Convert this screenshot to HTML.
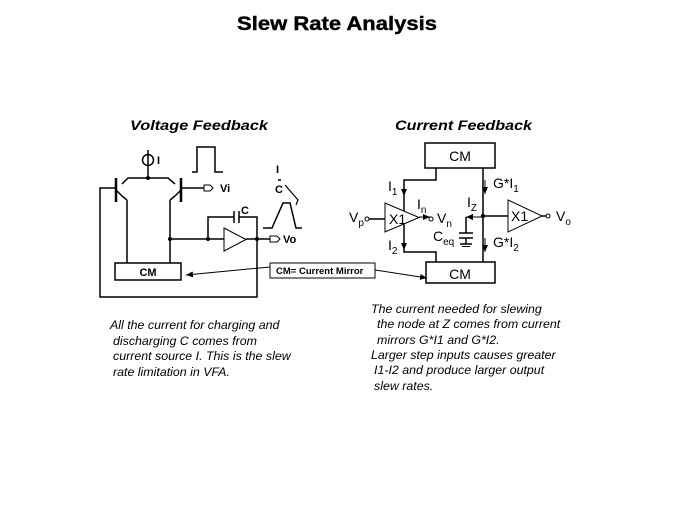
<!DOCTYPE html>
<html><head><meta charset="utf-8"><style>
html,body{margin:0;padding:0;background:#fff;}
svg{display:block;}
text{font-family:"Liberation Sans",Arial,sans-serif;fill:#000;}
</style></head><body>
<svg width="674" height="506" viewBox="0 0 674 506" xmlns="http://www.w3.org/2000/svg">
<defs>
<marker id="ar" markerWidth="8" markerHeight="8" refX="7" refY="4" orient="auto" markerUnits="userSpaceOnUse">
<path d="M0,1 L7,4 L0,7 z" fill="#000"/></marker>
</defs>
<text x="337" y="30" font-size="19" font-weight="bold" text-anchor="middle" textLength="200" lengthAdjust="spacingAndGlyphs" stroke="#000" stroke-width="0.4">Slew Rate Analysis</text>
<text x="130" y="130" font-size="14" font-weight="bold" font-style="italic" textLength="138" lengthAdjust="spacingAndGlyphs">Voltage Feedback</text>
<text x="395" y="130" font-size="14" font-weight="bold" font-style="italic" textLength="137" lengthAdjust="spacingAndGlyphs">Current Feedback</text>

<g stroke="#000" stroke-width="1.5" fill="none">
<circle cx="148" cy="160" r="5.5"/>
<line x1="148" y1="150" x2="148" y2="178"/>
<polyline points="122,184 128,178 168,178 175,184"/>
<line x1="116" y1="178" x2="116" y2="202" stroke-width="2.5"/>
<line x1="181" y1="178" x2="181" y2="202" stroke-width="2.5"/>
<polyline points="116,190 122,196 127,200"/>
<polyline points="181,190 175,196 170,200"/>
<line x1="127" y1="200" x2="127" y2="263"/>
<line x1="170" y1="200" x2="170" y2="263"/>
<polyline points="116,188 100,188 100,297 257,297 257,239"/>
<line x1="181" y1="188" x2="204" y2="188"/>
<polygon points="204,185 210,185 213,188 210,191 204,191" stroke-width="1"/>
<rect x="115" y="263" width="66" height="17"/>
<line x1="170" y1="239" x2="224" y2="239"/>
<line x1="246" y1="239" x2="258" y2="239"/>
<polygon points="224,228 246,239.5 224,251" stroke-width="1"/>
<polyline points="208,239 208,217 234,217"/>
<line x1="234" y1="211" x2="234" y2="223"/>
<line x1="239" y1="211" x2="239" y2="223"/>
<polyline points="239,217 257,217 257,239"/>
<line x1="257" y1="239" x2="270" y2="239"/>
<polygon points="270,236 277,236 280,239 277,242 270,242" stroke-width="1"/>
<polyline points="192,172 197,172 197,147 215,147 215,172 223,172"/>
<line x1="278" y1="180" x2="281" y2="180"/>
<polyline points="263,228 272,228 283,203 290,203 296,228 302,228"/>
<path d="M285,185 L298,200 L296,205" stroke-width="1.2"/>
<rect x="270" y="263" width="105" height="15" stroke-width="1"/>
<line x1="270" y1="267" x2="186" y2="275" stroke-width="1" marker-end="url(#ar)"/>
<line x1="375" y1="270" x2="427" y2="278" stroke-width="1" marker-end="url(#ar)"/>

<rect x="425" y="143" width="70" height="25"/>
<rect x="426" y="262" width="69" height="21"/>
<polyline points="436,168 436,180 404,180 404,252 436,252 436,262"/>
<line x1="483" y1="168" x2="483" y2="262"/>
<polygon points="385,203 419,217.5 385,232" fill="#fff" stroke-width="1"/>
<line x1="369" y1="219" x2="385" y2="219"/>
<circle cx="367" cy="219" r="2" stroke-width="1"/>
<line x1="419" y1="217" x2="430" y2="217" stroke-width="1" marker-end="url(#ar)"/>
<circle cx="431" cy="219" r="2" stroke-width="1"/>
<line x1="483" y1="216" x2="508" y2="216"/>
<polygon points="508,200 542,216 508,232" stroke-width="1"/>
<line x1="542" y1="216" x2="546" y2="216"/>
<circle cx="548" cy="216" r="2" stroke-width="1"/>
<line x1="483" y1="217" x2="466" y2="217" stroke-width="1" marker-end="url(#ar)"/>
<polyline points="466,217 466,233"/>
<line x1="459" y1="233" x2="473" y2="233"/>
<line x1="459" y1="238" x2="473" y2="238"/>
<line x1="466" y1="238" x2="466" y2="244"/>
<line x1="460" y1="244" x2="472" y2="244"/>
<line x1="462" y1="246.5" x2="470" y2="246.5" stroke-width="1"/>
<line x1="404" y1="184" x2="404" y2="196" stroke-width="1" marker-end="url(#ar)"/>
<line x1="404" y1="238" x2="404" y2="250" stroke-width="1" marker-end="url(#ar)"/>
<line x1="485" y1="180" x2="485" y2="194" stroke-width="1" marker-end="url(#ar)"/>
<line x1="485" y1="238" x2="485" y2="252" stroke-width="1" marker-end="url(#ar)"/>
</g>
<circle cx="148" cy="178" r="2"/>
<circle cx="170" cy="239" r="2"/>
<circle cx="208" cy="239" r="2"/>
<circle cx="257" cy="239" r="2"/>
<circle cx="483" cy="216" r="2.2"/>

<g font-size="11" font-weight="bold">
<text x="157" y="164">I</text>
<text x="220" y="192">Vi</text>
<text x="241" y="214">C</text>
<text x="283" y="243">Vo</text>
<text x="276" y="173">I</text>
<text x="275" y="193">C</text>
<text x="148" y="276" text-anchor="middle">CM</text>
<text x="276" y="274" font-size="9.5">CM= Current Mirror</text>
</g>
<g font-size="14">
<text x="460" y="161" text-anchor="middle">CM</text>
<text x="460" y="279" text-anchor="middle">CM</text>
<text x="389" y="224">X1</text>
<text x="511" y="221">X1</text>
<text x="349" y="222">V<tspan font-size="10" dy="4">p</tspan></text>
<text x="437" y="223">V<tspan font-size="10" dy="4">n</tspan></text>
<text x="556" y="221">V<tspan font-size="10" dy="4">o</tspan></text>
<text x="417" y="209">I<tspan font-size="10" dy="4">n</tspan></text>
<text x="467" y="207">I<tspan font-size="10" dy="4">Z</tspan></text>
<text x="433" y="241">C<tspan font-size="10" dy="4">eq</tspan></text>
<text x="388" y="191">I<tspan font-size="10" dy="4">1</tspan></text>
<text x="388" y="250">I<tspan font-size="10" dy="4">2</tspan></text>
<text x="493" y="188">G*I<tspan font-size="10" dy="4">1</tspan></text>
<text x="493" y="247">G*I<tspan font-size="10" dy="4">2</tspan></text>
</g>

<g font-size="12.4" font-style="italic">
<text x="110" y="329">All the current for charging and</text>
<text x="113" y="345">discharging C comes from</text>
<text x="113" y="360">current source I.  This is the slew</text>
<text x="113" y="376">rate limitation in VFA.</text>
<text x="371" y="313">The current needed for slewing</text>
<text x="377" y="328">the node at Z comes from current</text>
<text x="377" y="344">mirrors G*I1 and G*I2.</text>
<text x="371" y="359">Larger step inputs causes greater</text>
<text x="374" y="374">I1-I2 and produce larger output</text>
<text x="374" y="390">slew rates.</text>
</g>
</svg>
</body></html>
